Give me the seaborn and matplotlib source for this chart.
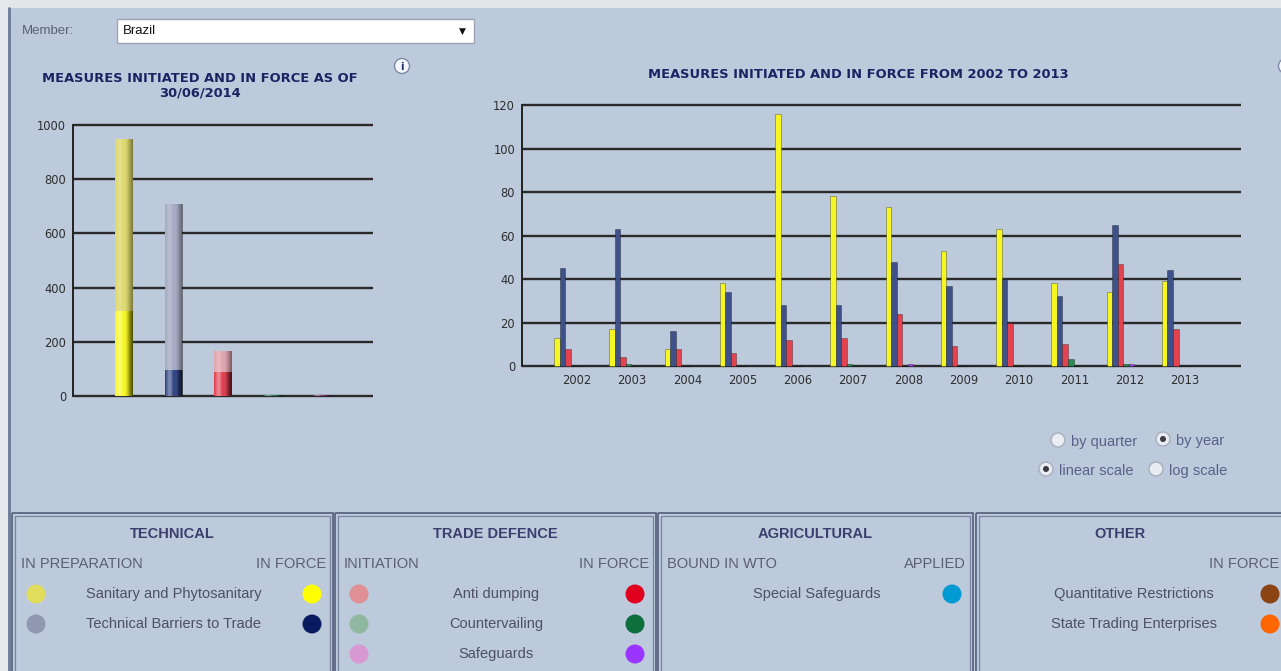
import numpy as np
import pandas as pd
import matplotlib
matplotlib.use("Agg")
import matplotlib.pyplot as plt
import seaborn as sns
from matplotlib.patches import Rectangle, Circle
from matplotlib.colors import LinearSegmentedColormap
from matplotlib.transforms import ScaledTranslation

# ---------------- data ----------------
snapshot_categories = ["Sanitary and Phytosanitary", "Technical Barriers to Trade",
                       "Anti dumping", "Countervailing", "Safeguards"]
snapshot_total = [950, 710, 165, 3, 3]          # initiated / in preparation + in force
snapshot_in_force = [315, 95, 90, 2, 2]
left_yticks = [0, 200, 400, 600, 800, 1000]

years = ["2002", "2003", "2004", "2005", "2006", "2007",
         "2008", "2009", "2010", "2011", "2012", "2013"]
series_names = ["Sanitary and Phytosanitary", "Technical Barriers to Trade",
                "Anti dumping", "Countervailing", "Safeguards"]
sps_in_force = [13, 17, 8, 38, 116, 78, 73, 53, 63, 38, 34, 39]
tbt_in_force = [45, 63, 16, 34, 28, 28, 48, 37, 40, 32, 65, 44]
ad_in_force = [8, 4, 8, 6, 12, 13, 24, 9, 20, 10, 47, 17]
cvd_in_force = [0, 1, 0, 0, 0, 1, 0, 0, 0, 3, 1, 0]
sg_in_force = [0, 0, 0, 0, 0, 0, 1, 0, 0, 0, 1, 0]
right_yticks = [0, 20, 40, 60, 80, 100, 120]

member = "Brazil"
left_title = "MEASURES INITIATED AND IN FORCE AS OF\n30/06/2014"
right_title = "MEASURES INITIATED AND IN FORCE FROM 2002 TO 2013"

# ---------------- styles ----------------
W, H = 1281, 671
BG = "#bccadc"
prep_colors = {"Sanitary and Phytosanitary": "#dcd86c", "Technical Barriers to Trade": "#a4aac2",
               "Anti dumping": "#e2a4ae", "Countervailing": "#8fb8a0", "Safeguards": "#c890c8"}
force_colors = {"Sanitary and Phytosanitary": "#f8f81c", "Technical Barriers to Trade": "#2c3f80",
                "Anti dumping": "#e03a4a", "Countervailing": "#1f7a45", "Safeguards": "#7a2a6a"}
year_colors = {"Sanitary and Phytosanitary": "#f6f622", "Technical Barriers to Trade": "#3e5189",
               "Anti dumping": "#e2434f", "Countervailing": "#2a8a52", "Safeguards": "#a848f0"}
GRID = "#2a2a2a"
TXT = "#4e5064"
TITLE = "#1c2262"

sns.set_theme(style="white")
plt.rcParams["font.family"] = ["DejaVu Sans"]

fig = plt.figure(figsize=(W / 100, H / 100), dpi=100, facecolor=BG)

# decoration layer in pixel coordinates
deco = fig.add_axes([0, 0, 1, 1])
deco.set_xlim(0, W)
deco.set_ylim(H, 0)
deco.axis("off")
deco.set_facecolor("none")

deco.add_patch(Rectangle((0, 0), W, 8, color="#e3e5e9", lw=0))
deco.add_patch(Rectangle((0, 0), 8, H, color="#e6e8ec", lw=0))
deco.plot([9, 9], [8, H], color="#6c7a96", lw=2)

# member selector
deco.text(22, 31, "Member:", fontsize=9.5, color="#5e6070", va="center", family="Liberation Sans")
deco.add_patch(Rectangle((117, 19), 357, 24, facecolor="white", edgecolor="#9aa4b4", lw=1))
deco.text(123, 31, member, fontsize=9.5, color="#111111", va="center", family="Liberation Sans")
deco.text(462, 31, "▼", fontsize=6.5, color="#111111", va="center", ha="center")

# info icons
deco.add_patch(Circle((402, 66), 7.5, facecolor="#f4f6fa", edgecolor="#7d8aa6", lw=1))
deco.text(402, 66.5, "i", fontsize=7, fontweight="bold", color="#1c2a6a", ha="center", va="center")
deco.add_patch(Circle((1286, 66), 7.5, facecolor="#f4f6fa", edgecolor="#7d8aa6", lw=1))

# chart titles
deco.text(200, 86, left_title, fontsize=9.4, fontweight="bold", color=TITLE,
          ha="center", va="center", linespacing=1.2)
deco.text(858, 75, right_title, fontsize=9.4, fontweight="bold", color=TITLE,
          ha="center", va="center")

# radio buttons
radio = [(1058, 440, "by quarter", False), (1163, 439, "by year", True),
         (1046, 469, "linear scale", True), (1156, 469, "log scale", False)]
for cx, cy, lab, on in radio:
    deco.add_patch(Circle((cx, cy), 7, facecolor="#e9ecf1", edgecolor="#a6aebe", lw=1))
    if on:
        deco.add_patch(Circle((cx, cy), 3, facecolor="#3c3c44", lw=0))
    deco.text(cx + 13, cy + 2, lab, fontsize=10.5, color="#5a6088", va="center", family="Liberation Sans")

# legend panels
panels = [(12, 333, "TECHNICAL", ("IN PREPARATION", "IN FORCE"),
           [("Sanitary and Phytosanitary", "#e0dc5c", "#ffff00"),
            ("Technical Barriers to Trade", "#9098b2", "#0a1a5e")]),
          (335, 656, "TRADE DEFENCE", ("INITIATION", "IN FORCE"),
           [("Anti dumping", "#e09094", "#e0001e"),
            ("Countervailing", "#90b8a0", "#0e6e3c"),
            ("Safeguards", "#d898d2", "#9a34ff")]),
          (658, 973, "AGRICULTURAL", ("BOUND IN WTO", "APPLIED"),
           [("Special Safeguards", None, "#0099d2")]),
          (976, 1290, "OTHER", ("", "IN FORCE"),
           [("Quantitative Restrictions", None, "#8b4414"),
            ("State Trading Enterprises", None, "#ff6600")])]
LF = "Liberation Sans"
label_centres = {12: 174, 335: 496, 658: 817, 976: 1134}
for x0, x1, title, (subl, subr), items in panels:
    deco.add_patch(Rectangle((x0, 513), x1 - x0, 170, facecolor="none", edgecolor="#5d6682", lw=1.3))
    deco.add_patch(Rectangle((x0 + 3, 516), x1 - x0 - 6, 170, facecolor="none", edgecolor="#7a84a0", lw=0.9))
    xc = (x0 + x1) / 2
    deco.text(xc if x1 <= W else 1120, 534, title, fontsize=10.5, fontweight="bold", color="#3c3f6e",
              ha="center", va="center", family=LF)
    if subl:
        deco.text(x0 + 9, 564, subl, fontsize=10.5, color="#5c5e74", ha="left", va="center", family=LF)
    if x1 > W:
        deco.text(1279, 564, subr, fontsize=10.5, color="#5c5e74", ha="right", va="center", family=LF)
    else:
        deco.text(x1 - 7, 564, subr, fontsize=10.5, color="#5c5e74", ha="right", va="center", family=LF)
    for k, (lab, cl, cr) in enumerate(items):
        yy = 594 + 30 * k
        if cl is not None:
            deco.add_patch(Circle((x0 + 24, yy), 9.5, facecolor=cl, lw=0))
        deco.text(label_centres[x0], yy, lab, fontsize=10.5, color=TXT, ha="center", va="center", family=LF)
        rx = 1270 if x1 > W else x1 - 21
        deco.add_patch(Circle((rx, yy), 9.5, facecolor=cr, lw=0))


def px_axes(left, right, top, bottom):
    return fig.add_axes([left / W, 1 - bottom / H, (right - left) / W, (bottom - top) / H])


gradient_cmap = LinearSegmentedColormap.from_list(
    "shade", [(1, 1, 1, 0.0), (1, 1, 1, 0.25), (1, 1, 1, 0.0), (0, 0, 0, 0.15), (0, 0, 0, 0.45)])


def shade_bars(ax):
    grad = np.linspace(0, 1, 64).reshape(1, -1)
    for p in list(ax.patches):
        h = p.get_height()
        if h <= 0:
            continue
        im = ax.imshow(grad, cmap=gradient_cmap, aspect="auto", zorder=p.get_zorder() + 0.1,
                       extent=(p.get_x(), p.get_x() + p.get_width(), p.get_y(), p.get_y() + h))
        im.set_clip_path(p)


# ---------------- left chart ----------------
ppuL = (396 - 125) / 1000
axL = px_axes(73, 373, 396 - 1012 * ppuL, 396 + 8 * ppuL)
axL.set_facecolor("none")
df_left = pd.DataFrame({"measure": snapshot_categories, "total": snapshot_total,
                        "in_force": snapshot_in_force})
sns.barplot(data=df_left, x="measure", y="total", hue="measure", palette=prep_colors,
            width=0.36, saturation=1, legend=False, ax=axL, linewidth=0, zorder=3)
sns.barplot(data=df_left, x="measure", y="in_force", hue="measure", palette=force_colors,
            width=0.36, saturation=1, legend=False, ax=axL, linewidth=0, zorder=3)
shade_bars(axL)
axL.set_xlim(-1.03, 5.03)
axL.set_ylim(-8, 1012)
axL.set_yticks(left_yticks)
axL.yaxis.grid(True, color=GRID, lw=1.7)
axL.set_axisbelow(True)
axL.tick_params(axis="x", bottom=False, labelbottom=False, length=0)
axL.tick_params(axis="y", left=False, length=0, labelsize=8.3, labelcolor="#2e2e2e", pad=5)
for s in ("top", "right", "bottom"):
    axL.spines[s].set_visible(False)
axL.spines["left"].set_color("#222222")
axL.spines["left"].set_linewidth(1.4)
axL.spines["left"].set_bounds(0, 1000)
axL.set_xlabel("")
axL.set_ylabel("")

# ---------------- right chart ----------------
ppuR = (366 - 105) / 120
axR = px_axes(522, 1241, 366 - 121.5 * ppuR, 366 + 1.2 * ppuR)
axR.set_facecolor("none")
values = [sps_in_force, tbt_in_force, ad_in_force, cvd_in_force, sg_in_force]
df_right = pd.DataFrame({
    "year": [y for _ in series_names for y in years],
    "series": [s for s in series_names for _ in years],
    "value": [v for vals in values for v in vals],
})
sns.barplot(data=df_right, x="year", y="value", hue="series", hue_order=series_names,
            order=years, palette=year_colors, width=0.5, saturation=1, legend=False,
            ax=axR, edgecolor=(0, 0, 0, 0.35), linewidth=0.6, zorder=3)
axR.set_xlim(-0.83, 12.18)
axR.set_ylim(-1.2, 121.5)
axR.set_yticks(right_yticks)
axR.yaxis.grid(True, color=GRID, lw=1.7)
axR.set_axisbelow(True)
axR.tick_params(axis="x", bottom=False, length=0, labelsize=8.3, labelcolor="#2e2e2e", pad=4)
axR.tick_params(axis="y", left=False, length=0, labelsize=8.3, labelcolor="#2e2e2e", pad=5)
offset = ScaledTranslation(9 / 100, 0, fig.dpi_scale_trans)
for lab in axR.get_xticklabels():
    lab.set_transform(lab.get_transform() + offset)
for s in ("top", "right", "bottom"):
    axR.spines[s].set_visible(False)
axR.spines["left"].set_color("#222222")
axR.spines["left"].set_linewidth(1.4)
axR.spines["left"].set_bounds(0, 120)
axR.set_xlabel("")
axR.set_ylabel("")

fig.savefig("out.png", dpi=100, facecolor=BG)
